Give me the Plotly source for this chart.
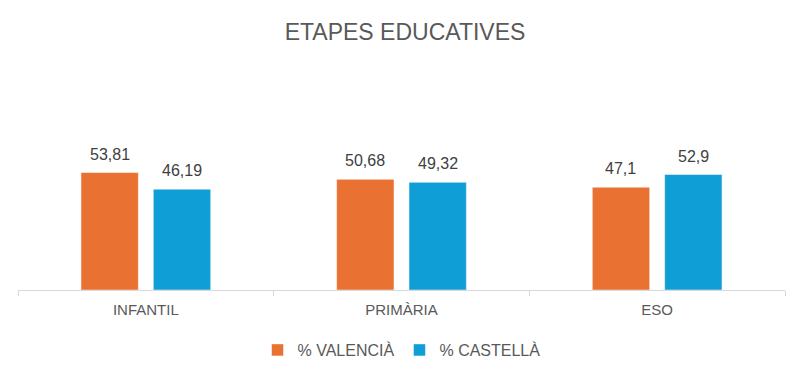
import plotly.graph_objects as go

categories = ["INFANTIL", "PRIMÀRIA", "ESO"]
valencia = [53.81, 50.68, 47.1]
castella = [46.19, 49.32, 52.9]
series_names = ["% VALENCIÀ", "% CASTELLÀ"]
colors = ["#E97132", "#0F9ED5"]

fig = go.Figure()
annotations = []
for k, (name, vals, col) in enumerate(zip(series_names, [valencia, castella], colors)):
    fig.add_trace(go.Bar(
        x=categories, y=vals, name=name,
        marker=dict(color=col, line=dict(color="white", width=0.5)),
        hoverinfo="x+y",
    ))
    for c, v in zip(categories, vals):
        annotations.append(dict(
            x=c, y=v, xref="x", yref="y", text=f"{v}".replace(".", ","),
            showarrow=False, xanchor="center", yanchor="bottom",
            xshift=(-36.25 if k == 0 else 36.25), yshift=8,
            font=dict(family="Liberation Sans, Arial, sans-serif", size=16, color="#404040"),
        ))

fig.update_layout(
    width=806, height=378,
    margin=dict(l=10, r=29, t=151, b=96),
    paper_bgcolor="white", plot_bgcolor="white",
    separators=",.",
    barmode="group", bargap=0.434, bargroupgap=0.207,
    title=dict(text="ETAPES EDUCATIVES", x=(405 - 8) / 806, xanchor="center", y=1 - 24/378, yanchor="middle",
               font=dict(family="Liberation Sans, Arial, sans-serif", size=23, color="#595959")),
    xaxis=dict(showline=True, linecolor="#D9D9D9", linewidth=1, ticks="outside", tickson="boundaries",
               ticklen=5, tickcolor="#D9D9D9", showgrid=False, ticklabelstandoff=6,
               tickfont=dict(family="Liberation Sans, Arial, sans-serif", size=15, color="#595959")),
    yaxis=dict(visible=False, range=[0, 60], showgrid=False, zeroline=False),
    legend=dict(orientation="h", x=0.5, xanchor="center", y=-(350 - 290) / 131, yanchor="middle",
                font=dict(family="Liberation Sans, Arial, sans-serif", size=16, color="#595959"),
                itemwidth=30, traceorder="normal"),
    showlegend=True,
    annotations=annotations,
)

fig.write_html("out.html")
